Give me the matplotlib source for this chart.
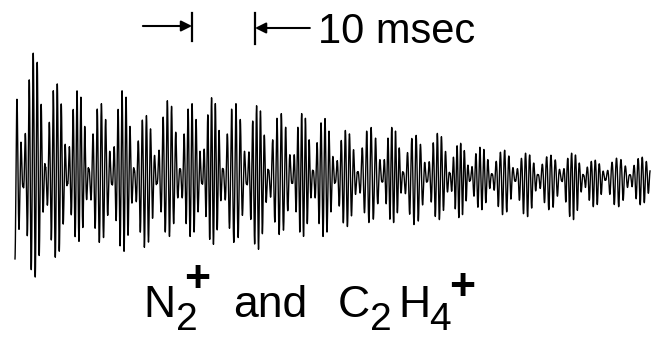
import numpy as np
import matplotlib
matplotlib.use("Agg")
import matplotlib.pyplot as plt

plt.rcParams['font.family'] = ['Liberation Sans', 'DejaVu Sans']

# beat nodes of the transient (msec)
node_ms = [-2.3, 1.3, 4.8, 8.3, 11.7, 15.4, 18.9, 22.5, 26.2, 29.7, 33.0,
           36.8, 40.2, 44.0, 47.3, 50.8, 54.4, 58.3, 61.6, 65.4, 69.0,
           72.2, 75.7, 79.4, 83.0, 86.8, 90.2, 93.7, 97.6, 101.2]
# peak excursion above / below the baseline in each beat (arb. units)
upper = [100, 125, 94, 87, 74, 87, 62, 77, 74, 80, 74, 72, 64, 64, 59,
         47, 50, 50, 42, 44, 34, 30, 27, 24, 22, 24, 17, 19, 20]
lower = [90, 101, 81, 65, 66, 75, 71, 60, 60, 68, 66, 73, 58, 60, 60,
         50, 46, 46, 48, 43, 41, 33, 38, 40, 33, 43, 30, 30, 28]
cycles_per_beat = 5.5
t_end = 100.8
scale_ms = 10
scale_start = 28.1

label_parts = ["N", "2", "+", "and", "C", "2", "H", "4", "+"]

# build the trace
nodes = np.array(node_ms)
t = np.linspace(0, t_end, 14000)
idx = np.clip(np.searchsorted(nodes, t) - 1, 0, len(upper) - 1)
frac = (t - nodes[idx]) / (nodes[idx + 1] - nodes[idx])
phase = idx + frac
env = 0.08 + 0.92 * np.abs(np.sin(np.pi * frac))
carrier = np.cos(2 * np.pi * cycles_per_beat * phase)
amp = np.where(carrier > 0, np.array(upper)[idx], np.array(lower)[idx])
sig = env * carrier * amp

fig = plt.figure(figsize=(6.51, 3.40), dpi=100)
ax = fig.add_axes([0, 0, 1, 1])
ax.plot(t, sig, color='black', lw=1.0)
ax.set_xlim(-15 / 6.3, 636 / 6.3)
ax.set_ylim(-163, 177)
ax.axis('off')

# 10 msec scale bar
t1 = scale_start
t2 = scale_start + scale_ms
ax.plot([t1, t1], [164, 136], color='black', lw=1.6)
ax.plot([t2, t2], [164, 133], color='black', lw=1.6)
ax.annotate('', xy=(t1, 151), xytext=(20.3, 151),
            arrowprops=dict(arrowstyle='-|>', lw=1.5, color='black',
                            shrinkA=0, shrinkB=0, mutation_scale=16))
ax.annotate('', xy=(t2, 149), xytext=(46.8, 149),
            arrowprops=dict(arrowstyle='-|>', lw=1.5, color='black',
                            shrinkA=0, shrinkB=0, mutation_scale=16))
ax.text(48.1, 134, "{} msec".format(scale_ms), fontsize=30,
        ha='left', va='baseline')

# label: N2+ and C2H4+
big = dict(fontsize=32, ha='left', va='baseline')
sub = dict(fontsize=28, ha='left', va='baseline')
plus = dict(fontsize=32, ha='center', va='center', fontweight='bold')
ax.text(20.3, -140, label_parts[0], **big)
ax.text(25.6, -153, label_parts[1], **sub)
ax.text(28.9, -104, label_parts[2], **plus)
ax.text(34.6, -140, label_parts[3], **big)
ax.text(51.3, -140, label_parts[4], **big)
ax.text(56.4, -153, label_parts[5], **sub)
ax.text(60.8, -140, label_parts[6], **big)
ax.text(65.8, -153, label_parts[7], **sub)
ax.text(71.0, -112, label_parts[8], **plus)

fig.savefig("out.png", dpi=100)
